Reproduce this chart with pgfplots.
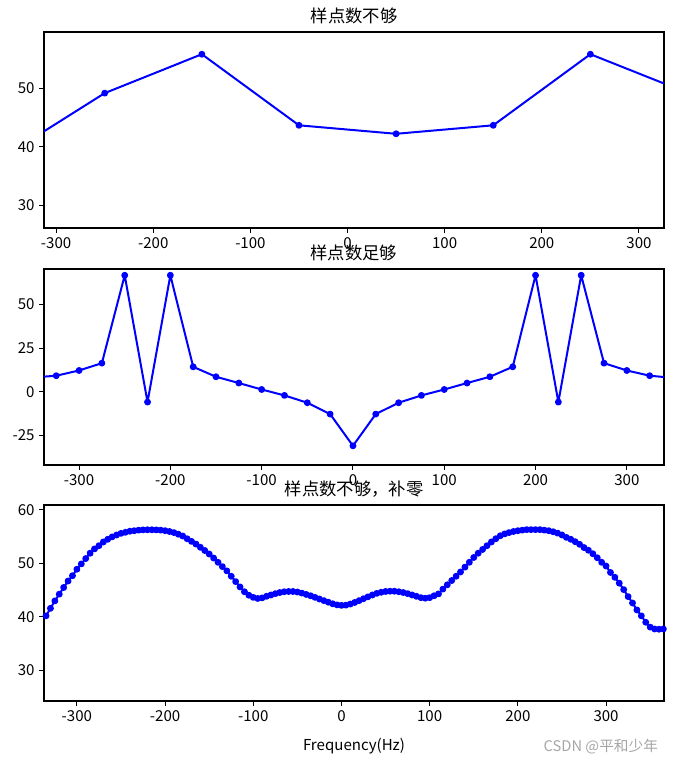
\documentclass[border=0pt]{standalone}
\usepackage{fontspec}
\setmainfont{Noto Sans CJK SC}
\usepackage{pgfplots}
\pgfplotsset{compat=1.18}
\definecolor{mplblue}{RGB}{0,0,255}
\pgfplotsset{
  myax/.style={
    scale only axis, width=465pt, height=147pt,
    axis line style={line width=0.8pt, black},
    tick align=outside, major tick length=3.6pt,
    tick style={line width=0.8pt, black},
    xtick pos=left, ytick pos=left,
    xtick={-300,-200,...,300},
    ticklabel style={font=\fontsize{11.3}{13}\selectfont},
    /pgf/number format/assume math mode=true,
    title style={font=\fontsize{13}{15}\selectfont, at={(0.5,1)}, anchor=center, yshift=6pt},
  },
  myplot/.style={color=mplblue, line width=1.5pt, line join=round, mark=*, mark size=1.8pt, mark options={solid, fill=mplblue, draw=mplblue}},
}
\begin{document}
\begin{tikzpicture}
\path[use as bounding box] (-33pt,-47.25pt) rectangle (475.5pt,525.75pt);
% top
\begin{axis}[myax, at={(0pt,354.75pt)}, anchor=south west,
  xmin=-312.5, xmax=325.8, ymin=26.1, ymax=59.6, ytick={30,40,50},
  title={样点数不够}]
\addplot[myplot] coordinates {
(-350,38.7) (-250,49.15) (-150,55.8) (-50,43.65) (50,42.2) (150,43.65) (250,55.8) (350,49.2)
};
\end{axis}
% middle
\begin{axis}[myax, at={(0pt,177pt)}, anchor=south west,
  xmin=-338.4, xmax=340.7, ymin=-42, ymax=70.4, ytick={-25,0,25,50},
  title={样点数足够}]
\addplot[myplot] coordinates {
(-350,8.2) (-325,9.2) (-300,12.2) (-275,16.4) (-250,66.8) (-225,-5.9) (-200,66.8)
(-175,14.3) (-150,8.6) (-125,5.0) (-100,1.3) (-75,-2.1) (-50,-6.3) (-25,-12.8)
(0,-31.0) (25,-12.8) (50,-6.3) (75,-2.1) (100,1.3) (125,5.0) (150,8.6) (175,14.3)
(200,66.8) (225,-5.9) (250,66.8) (275,16.4) (300,12.2) (325,9.2) (350,8.0)
};
\end{axis}
% bottom
\begin{axis}[myax, at={(0pt,0pt)}, anchor=south west,
  xmin=-337.3, xmax=365.7, ymin=24.3, ymax=60.9, ytick={30,40,50,60},
  title={样点数不够，补零},
  xlabel={Frequency(Hz)},
  xlabel style={font=\fontsize{11.3}{13}\selectfont, at={(axis description cs:0.5,0)}, anchor=center, yshift=-34pt}]
\addplot[myplot] coordinates {
(-335,40.2) (-330,41.6) (-325,43.0) (-320,44.25) (-315,45.5) (-310,46.7) (-305,47.7)
(-300,48.9) (-295,49.9) (-290,50.9) (-285,51.9) (-280,52.7) (-275,53.3) (-270,54.0)
(-265,54.5) (-260,54.95) (-255,55.3) (-250,55.6) (-245,55.8) (-240,56.0) (-235,56.1)
(-230,56.2) (-225,56.25) (-220,56.27) (-215,56.27) (-210,56.25) (-205,56.2) (-200,56.1)
(-195,55.95) (-190,55.75) (-185,55.45) (-180,55.1) (-175,54.6) (-170,54.1) (-165,53.6)
(-160,53.0) (-155,52.4) (-150,51.75) (-145,51.0) (-140,50.2) (-135,49.4) (-130,48.6)
(-125,47.6) (-120,46.6) (-115,45.6) (-110,44.7) (-105,44.05) (-100,43.65) (-95,43.45)
(-90,43.55) (-85,43.85) (-80,44.1) (-75,44.35) (-70,44.55) (-65,44.7) (-60,44.75)
(-55,44.75) (-50,44.65) (-45,44.45) (-40,44.2) (-35,43.95) (-30,43.65) (-25,43.35)
(-20,43.05) (-15,42.75) (-10,42.45) (-5,42.25) (0,42.15) (5,42.2) (10,42.4)
(15,42.7) (20,43.05) (25,43.4) (30,43.75) (35,44.1) (40,44.4) (45,44.6)
(50,44.75) (55,44.8) (60,44.8) (65,44.7) (70,44.55) (75,44.35) (80,44.1)
(85,43.85) (90,43.6) (95,43.5) (100,43.6) (105,43.95) (110,44.3) (115,45.2)
(120,46.0) (125,46.8) (130,47.6) (135,48.4) (140,49.3) (145,50.2) (150,51.1)
(155,51.9) (160,52.6) (165,53.3) (170,54.0) (175,54.6) (180,55.15) (185,55.5)
(190,55.75) (195,55.95) (200,56.1) (205,56.2) (210,56.3) (215,56.3) (220,56.3)
(225,56.3) (230,56.2) (235,56.1) (240,55.9) (245,55.65) (250,55.3) (255,54.85)
(260,54.5) (265,54.05) (270,53.55) (275,52.95) (280,52.45) (285,51.8) (290,51.05)
(295,50.2) (300,49.5) (305,48.3) (310,47.4) (315,46.3) (320,45.1) (325,43.8)
(330,42.6) (335,41.3) (340,40.2) (345,39.0) (350,38.1) (355,37.75) (360,37.7) (365,37.75)
};
\end{axis}
\node[anchor=east, text=black!35, font=\fontsize{11}{13}\selectfont] at (464pt,-34pt) {CSDN @平和少年};
\end{tikzpicture}
\end{document}
